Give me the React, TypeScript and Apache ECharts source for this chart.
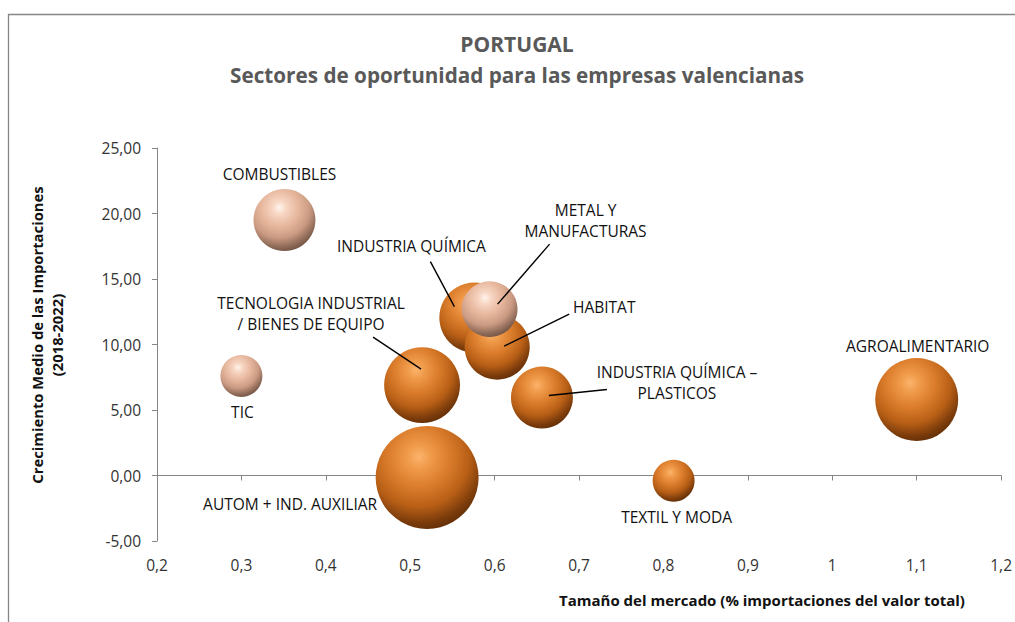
import React, { useEffect, useRef } from "react";
import * as echarts from "echarts";

// ---- Data ----
const mainSectors = [
  "AGROALIMENTARIO",
  "AUTOM + IND. AUXILIAR",
  "TECNOLOGIA INDUSTRIAL\n/ BIENES DE EQUIPO",
  "INDUSTRIA QUÍMICA",
  "HABITAT",
  "INDUSTRIA QUÍMICA –\nPLASTICOS",
  "TEXTIL Y MODA",
];
const mainMarketShare = [1.1, 0.52, 0.514, 0.576, 0.603, 0.656, 0.812];
const mainGrowth = [5.8, -0.15, 6.9, 12.05, 9.8, 5.95, -0.4];
const mainWeight = [17.2, 26.5, 14.4, 12.3, 10.6, 9.6, 4.4];

const paleSectors = ["METAL Y\nMANUFACTURAS", "COMBUSTIBLES", "TIC"];
const paleMarketShare = [0.594, 0.351, 0.3];
const paleGrowth = [12.7, 19.5, 7.6];
const paleWeight = [7.8, 9.6, 4.4];

const xMin = 0.2, xMax = 1.2, xStep = 0.1;
const yMin = -5, yMax = 25, yStep = 5;

const titleText = "PORTUGAL";
const subtitleText = "Sectores de oportunidad para las empresas valencianas";
const xName = "Tamaño del mercado (% importaciones del valor total)";
const yName = "Crecimiento Medio de las Importaciones\n(2018-2022)";

// ---- Layout (pixel offsets of labels and leader lines relative to bubble centre) ----
const labelOffsets: Record<string, [number, number]> = {
  "AGROALIMENTARIO": [1, -54],
  "AUTOM + IND. AUXILIAR": [-137, 27],
  "TECNOLOGIA INDUSTRIAL\n/ BIENES DE EQUIPO": [-111, -72],
  "INDUSTRIA QUÍMICA": [-63, -72],
  "HABITAT": [107, -40],
  "INDUSTRIA QUÍMICA –\nPLASTICOS": [135, -15],
  "TEXTIL Y MODA": [3, 36],
  "METAL Y\nMANUFACTURAS": [96, -89],
  "COMBUSTIBLES": [-5, -46],
  "TIC": [1, 36],
};
const leaderLines: Record<string, [number, number, number, number]> = {
  "TECNOLOGIA INDUSTRIAL\n/ BIENES DE EQUIPO": [-49, -48, -1, -16],
  "INDUSTRIA QUÍMICA": [-44, -56, -20, -11],
  "METAL Y\nMANUFACTURAS": [60, -65, 8, -5],
  "HABITAT": [72, -33, 7, -1],
  "INDUSTRIA QUÍMICA –\nPLASTICOS": [65, -8, 7, -2],
};

const FONT = "'Open Sans', 'Noto Sans', sans-serif";

const orangeGradient = {
  type: "radial",
  x: 0.42,
  y: 0.3,
  r: 0.75,
  colorStops: [
    { offset: 0, color: "#fcb46c" },
    { offset: 0.15, color: "#f09b4b" },
    { offset: 0.4, color: "#da7c2b" },
    { offset: 0.65, color: "#b85f16" },
    { offset: 0.85, color: "#7c3c0b" },
    { offset: 1, color: "#5a2a06" },
  ],
};
const paleGradient = {
  type: "radial",
  x: 0.42,
  y: 0.3,
  r: 0.75,
  colorStops: [
    { offset: 0, color: "#fff4ec" },
    { offset: 0.15, color: "#f7d6c3" },
    { offset: 0.4, color: "#e7b79e" },
    { offset: 0.65, color: "#cb9a82" },
    { offset: 0.85, color: "#8e6a58" },
    { offset: 1, color: "#6a4c3e" },
  ],
};

function buildData(names: string[], xs: number[], ys: number[], ws: number[]) {
  return names.map((n, i) => ({
    name: n,
    value: [xs[i], ys[i], ws[i]],
    label: { offset: labelOffsets[n] || [0, 0] },
  }));
}

export default function App() {
  const ref = useRef<HTMLDivElement>(null);

  useEffect(() => {
    if (!ref.current) return;
    const chart = echarts.init(ref.current, null, { renderer: "svg" });

    const seriesLabel = {
      show: true,
      position: "inside",
      formatter: "{b}",
      color: "#111",
      fontFamily: FONT,
      fontSize: 15.5,
      lineHeight: 21,
      align: "center",
    };

    const baseGraphics: any[] = [
      {
        type: "rect",
        z: -10,
        shape: { x: 8.5, y: 14.5, width: 1100, height: 700 },
        style: { fill: "none", stroke: "#868686", lineWidth: 1.3 },
        silent: true,
      },
      {
        type: "text",
        x: 517,
        y: 44,
        style: {
          text: titleText,
          font: `bold 21px ${FONT}`,
          fill: "#595959",
          align: "center",
          verticalAlign: "middle",
        },
      },
      {
        type: "text",
        x: 517,
        y: 75,
        style: {
          text: subtitleText,
          font: `bold 20.7px ${FONT}`,
          fill: "#595959",
          align: "center",
          verticalAlign: "middle",
        },
      },
      {
        type: "text",
        x: 762,
        y: 600,
        style: {
          text: xName,
          font: `bold 15px ${FONT}`,
          fill: "#111",
          align: "center",
          verticalAlign: "middle",
        },
      },
      {
        type: "text",
        x: 47,
        y: 335,
        rotation: Math.PI / 2,
        style: {
          text: yName,
          font: `bold 14.8px ${FONT}`,
          lineHeight: 20,
          fill: "#111",
          align: "center",
          verticalAlign: "middle",
        },
      },
    ];

    const option: any = {
      animation: false,
      grid: { left: 157, right: 9, top: 148, bottom: 81, containLabel: false },
      xAxis: [
        {
          type: "value",
          min: xMin,
          max: xMax,
          interval: xStep,
          position: "bottom",
          axisLine: { show: false, onZero: false },
          axisTick: { show: false },
          splitLine: { show: false },
          axisLabel: {
            margin: 16,
            color: "#333",
            fontFamily: FONT,
            fontSize: 15.5,
            formatter: (v: number) => String(Math.round(v * 10) / 10).replace(".", ","),
          },
        },
        {
          type: "value",
          min: xMin,
          max: xMax,
          interval: xStep,
          position: "top",
          axisLine: { show: true, onZero: true, lineStyle: { color: "#868686", width: 1 } },
          axisTick: { show: true, inside: true, length: 5, lineStyle: { color: "#868686" } },
          axisLabel: { show: false },
          splitLine: { show: false },
        },
      ],
      yAxis: {
        type: "value",
        min: yMin,
        max: yMax,
        interval: yStep,
        axisLine: { show: true, onZero: false, lineStyle: { color: "#868686", width: 1 } },
        axisTick: { show: true, length: 5, lineStyle: { color: "#868686" } },
        splitLine: { show: false },
        axisLabel: {
          margin: 16,
          color: "#333",
          fontFamily: FONT,
          fontSize: 15.5,
          formatter: (v: number) => v.toFixed(2).replace(".", ","),
        },
      },
      series: [
        {
          type: "scatter",
          name: "Sectores",
          xAxisIndex: 0,
          yAxisIndex: 0,
          silent: true,
          symbolSize: (val: number[]) => 20 * Math.sqrt(val[2]),
          itemStyle: { color: orangeGradient, opacity: 1 },
          label: seriesLabel,
          emphasis: { disabled: true },
          data: buildData(mainSectors, mainMarketShare, mainGrowth, mainWeight),
        },
        {
          type: "scatter",
          name: "Sectores (2)",
          xAxisIndex: 0,
          yAxisIndex: 0,
          silent: true,
          symbolSize: (val: number[]) => 20 * Math.sqrt(val[2]),
          itemStyle: { color: paleGradient, opacity: 1 },
          label: seriesLabel,
          emphasis: { disabled: true },
          data: buildData(paleSectors, paleMarketShare, paleGrowth, paleWeight),
        },
      ],
      graphic: baseGraphics,
    };

    chart.setOption(option);

    const lines: any[] = [];
    const groups: [string[], number[], number[], number][] = [
      [mainSectors, mainMarketShare, mainGrowth, 0],
      [paleSectors, paleMarketShare, paleGrowth, 1],
    ];
    groups.forEach(([names, xs, ys, si]) => {
      names.forEach((n, i) => {
        const l = leaderLines[n];
        if (!l) return;
        const p = chart.convertToPixel({ seriesIndex: si }, [xs[i], ys[i]]) as number[];
        lines.push({
          type: "line",
          z: 100,
          silent: true,
          shape: { x1: p[0] + l[0], y1: p[1] + l[1], x2: p[0] + l[2], y2: p[1] + l[3] },
          style: { stroke: "#000", lineWidth: 1.4 },
        });
      });
    });
    chart.setOption({ graphic: [...baseGraphics, ...lines] });

    return () => chart.dispose();
  }, []);

  return (
    <div
      ref={ref}
      style={{ position: "fixed", left: 0, top: 0, width: 1015, height: 622, background: "#fff" }}
    />
  );
}
